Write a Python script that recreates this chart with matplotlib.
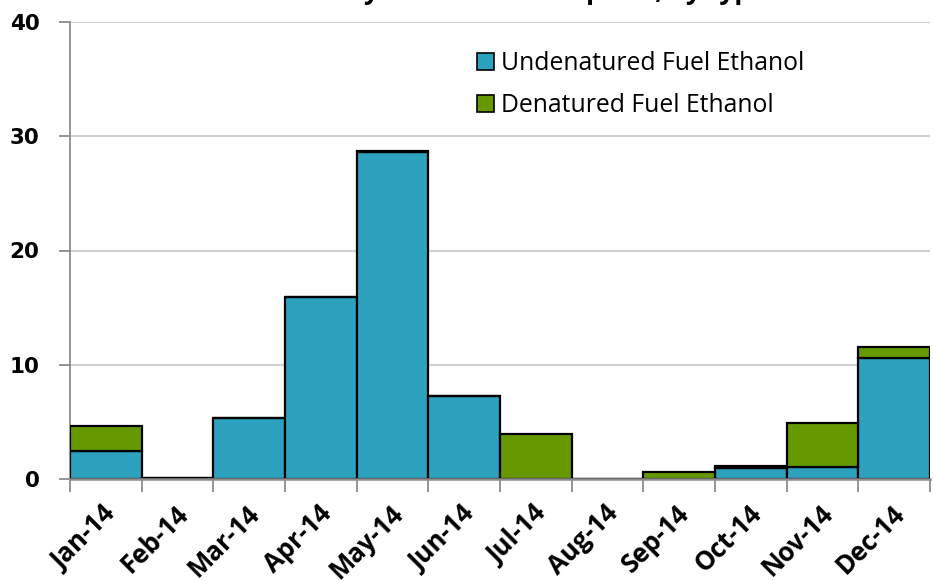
import matplotlib
matplotlib.use("Agg")
import matplotlib.pyplot as plt
import matplotlib.transforms as mtransforms
import numpy as np
from matplotlib.patches import Patch

months = ["Jan-14", "Feb-14", "Mar-14", "Apr-14", "May-14", "Jun-14",
          "Jul-14", "Aug-14", "Sep-14", "Oct-14", "Nov-14", "Dec-14"]
undenatured = [2.45, 0.05, 5.35, 15.9, 28.6, 7.25, 0.0, 0.0, 0.0, 0.93, 1.05, 10.6]
denatured = [2.2, 0.0, 0.0, 0.0, 0.1, 0.0, 3.95, 0.0, 0.65, 0.2, 3.85, 0.95]
yticks = [0, 10, 20, 30, 40]
title = "Monthly fuel ethanol imports, by type"

teal = "#2DA2BF"
green = "#669900"
gray = "#8C8C8C"

fig = plt.figure(figsize=(9.33, 5.81), dpi=100)
ax = fig.add_axes([70/933, 1 - 479/581, 860/933, 457/581])

x = np.arange(len(months))
ax.bar(x, undenatured, width=1.0, color=teal, edgecolor="black", linewidth=1.6,
       zorder=3)
ax.bar(x, denatured, width=1.0, bottom=undenatured, color=green,
       edgecolor="black", linewidth=1.6, zorder=3)

ax.set_xlim(-0.5, len(months) - 0.5)
ax.set_ylim(0, 40)
ax.set_yticks(yticks)
ax.set_yticklabels([str(v) for v in yticks], fontsize=15.5, fontweight="bold",
                   family="DejaVu Sans")
ax.set_xticks(x)
ax.set_xticklabels(months, rotation=45, ha="right", rotation_mode="anchor",
                   fontsize=18.5, fontweight="bold", family="Open Sans")
ax.tick_params(axis="x", which="major", length=0, pad=15)
offset = mtransforms.ScaledTranslation(-3/100, 0, fig.dpi_scale_trans)
for lbl in ax.get_xticklabels():
    lbl.set_transform(lbl.get_transform() + offset)
ax.set_xticks(np.arange(len(months) + 1) - 0.5, minor=True)
ax.tick_params(axis="x", which="minor", length=9, width=1.3, color=gray)
ax.tick_params(axis="y", length=8, width=1.3, color=gray, pad=14)

ax.grid(axis="y", color="#D0D0D0", linewidth=1.5, zorder=0)
for s in ["top", "right"]:
    ax.spines[s].set_visible(False)
ax.spines["left"].set_color(gray)
ax.spines["left"].set_linewidth(1.3)
ax.spines["bottom"].set_color(gray)
ax.spines["bottom"].set_linewidth(1.8)
ax.spines["bottom"].set_zorder(4)

handles = [Patch(facecolor=teal, edgecolor="black", linewidth=1.2,
                 label="Undenatured Fuel Ethanol"),
           Patch(facecolor=green, edgecolor="black", linewidth=1.2,
                 label="Denatured Fuel Ethanol")]
ax.legend(handles=handles, loc="upper left", bbox_to_anchor=(0.447, 0.985),
          frameon=False, prop={"family": "Open Sans", "size": 17.8},
          handlelength=0.7, handleheight=0.7, handletextpad=0.3,
          labelspacing=0.7)

fig.text(0.555, 1.0 + 1/581, title, ha="center", va="baseline",
         fontsize=19, fontweight="bold", family="Open Sans")

fig.savefig("out.png", dpi=100)
